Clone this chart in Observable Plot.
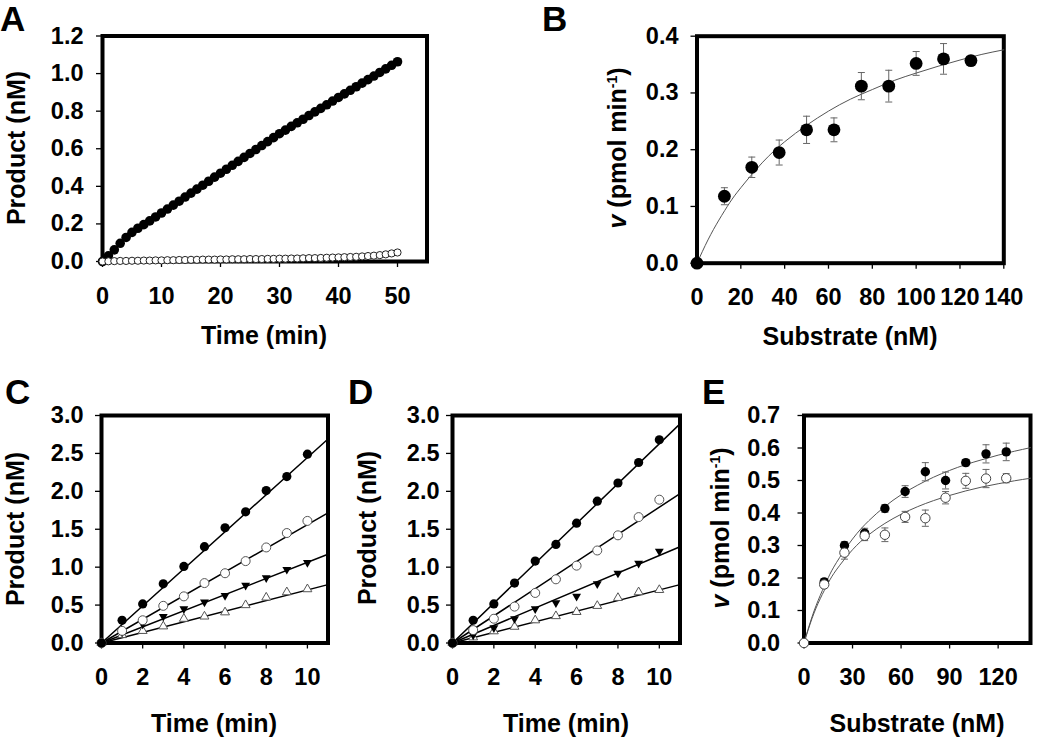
<!DOCTYPE html>
<html><head><meta charset="utf-8">
<script src="https://cdn.jsdelivr.net/npm/d3@7"></script>
<script src="https://cdn.jsdelivr.net/npm/@observablehq/plot@0.6"></script>
<style>
html,body{margin:0;padding:0;background:#fff}
#fig{position:relative;width:1050px;height:740px;background:#fff;overflow:hidden}
#fig > svg{position:absolute;max-width:none}
</style></head><body><div id="fig"></div>
<script>
// ---------- Panel A: product vs time ----------
const timeA = [0,1,2,3,4,5,6,7,8,9,10,11,12,13,14,15,16,17,18,19,20,21,22,23,24,25,26,27,28,29,30,31,32,33,34,35,36,37,38,39,40,41,42,43,44,45,46,47,48,49,50];
const productA_enzyme = [0.000,0.030,0.062,0.097,0.128,0.155,0.177,0.196,0.216,0.237,0.258,0.279,0.300,0.321,0.343,0.364,0.385,0.406,0.427,0.449,0.470,0.491,0.512,0.533,0.554,0.575,0.596,0.617,0.638,0.659,0.680,0.699,0.719,0.738,0.757,0.777,0.796,0.815,0.834,0.854,0.873,0.892,0.911,0.930,0.949,0.968,0.987,1.006,1.025,1.044,1.063];
const productA_control = [0.000,0.001,0.002,0.003,0.003,0.004,0.004,0.005,0.005,0.006,0.006,0.007,0.007,0.008,0.008,0.009,0.009,0.010,0.010,0.010,0.011,0.011,0.012,0.012,0.012,0.013,0.013,0.013,0.014,0.014,0.015,0.015,0.016,0.016,0.017,0.018,0.018,0.019,0.020,0.021,0.022,0.023,0.024,0.025,0.027,0.029,0.031,0.034,0.038,0.043,0.048];
const ticksAx = [0,10,20,30,40,50];
const ticksAy = [0,0.2,0.4,0.6,0.8,1.0,1.2];

// ---------- Panel B: Michaelis-Menten ----------
const substrateB = [0,12.5,25,37.5,50,62.5,75,87.5,100,112.5,125];
const rateB = [0,0.118,0.169,0.195,0.235,0.235,0.312,0.312,0.352,0.360,0.357];
const errB = [0,0.015,0.018,0.022,0.024,0.021,0.024,0.028,0.021,0.027,0.004];
const fitSubstrateB = [0,5,10,15,20,30,40,50,60,70,80,90,100,110,120,130,140];
const fitRateB = [0,0.041,0.076,0.107,0.133,0.178,0.214,0.243,0.268,0.289,0.306,0.322,0.335,0.347,0.358,0.368,0.376];
const ticksBx = [0,20,40,60,80,100,120,140];
const ticksBy = [0,0.1,0.2,0.3,0.4];

// ---------- Panels C and D: progress curves ----------
const timeCD = [0,1,2,3,4,5,6,7,8,9,10];
const C_filledCircle = [0,0.30,0.515,0.78,1.01,1.27,1.52,1.73,2.01,2.195,2.49];
const C_openCircle   = [0,0.16,0.30,0.49,0.615,0.79,0.92,1.08,1.26,1.45,1.61];
const C_filledTri    = [0,0.14,0.25,0.35,0.45,0.54,0.625,0.76,0.86,0.97,1.06];
const C_openTri      = [0,0.105,0.16,0.22,0.32,0.35,0.405,0.50,0.60,0.67,0.71];
const C_fitEnd = [2.69,1.716,1.17,0.77];
const D_filledCircle = [0,0.30,0.515,0.79,1.08,1.30,1.58,1.87,2.11,2.38,2.68];
const D_openCircle   = [0,0.17,0.32,0.48,0.66,0.84,1.02,1.22,1.42,1.66,1.89];
const D_filledTri    = [0,0.105,0.20,0.32,0.45,0.53,0.615,0.78,0.92,1.05,1.21];
const D_openTri      = [0,0.075,0.155,0.215,0.30,0.355,0.41,0.49,0.595,0.67,0.70];
const D_fitEnd = [2.89,1.97,1.27,0.77];
const fitTimeCD = [0,11];
const ticksCDx = [0,2,4,6,8,10];
const ticksCDy = [0,0.5,1.0,1.5,2.0,2.5,3.0];

// ---------- Panel E: two Michaelis-Menten series ----------
const substrateE = [0,12.5,25,37.5,50,62.5,75,87.5,100,112.5,125];
const E_filled = [0,0.188,0.300,0.338,0.414,0.466,0.527,0.500,0.555,0.582,0.588];
const E_filledErr = [0,0.010,0.012,0.015,0.012,0.018,0.028,0.026,0.010,0.028,0.027];
const E_open = [0,0.180,0.278,0.330,0.333,0.388,0.384,0.447,0.499,0.506,0.507];
const E_openErr = [0,0.010,0.020,0.015,0.021,0.017,0.025,0.019,0.023,0.028,0.014];
const fitSubstrateE = [0,5,10,15,20,30,40,50,60,70,80,90,100,110,120,130,140];
const fitFilledE = [0,0.081,0.146,0.201,0.247,0.320,0.376,0.420,0.456,0.485,0.510,0.531,0.549,0.564,0.578,0.590,0.601];
const fitOpenE = [0,0.076,0.136,0.185,0.225,0.287,0.333,0.368,0.396,0.419,0.438,0.454,0.468,0.480,0.490,0.499,0.507];
const ticksEx = [0,30,60,90,120];
const ticksEy = [0,0.1,0.2,0.3,0.4,0.5,0.6,0.7];

// ---------- helpers ----------
const FONT = "'Liberation Sans', Arial, Helvetica, sans-serif";
const fmt1 = d3.format(".1f");
const triDown = {draw(ctx, size) {
  const y = -Math.sqrt(size / (Math.sqrt(3) * 3));
  ctx.moveTo(0, -y * 2); ctx.lineTo(-Math.sqrt(3) * y, y); ctx.lineTo(Math.sqrt(3) * y, y); ctx.closePath();
}};
const capSym = {draw(ctx, size) {
  const w = Math.sqrt(size / Math.PI);
  ctx.moveTo(-w, 0); ctx.lineTo(w, 0);
}};
const fig = document.getElementById("fig");

function panel(o) {
  const svg = Plot.plot({
    width: o.width, height: o.height,
    marginLeft: o.ml, marginRight: o.mr, marginTop: o.mt, marginBottom: o.mb,
    style: {fontFamily: FONT, fontSize: "23.5px", fontWeight: "bold", color: "#000", background: "transparent", overflow: "visible"},
    x: {domain: o.xDomain},
    y: {domain: o.yDomain},
    marks: [
      Plot.frame({stroke: "#000", strokeWidth: 4}),
      Plot.axisX({ticks: o.xTicks, tickSize: 6, tickPadding: o.padX, tickFormat: d3.format("d"), label: null, strokeWidth: 1.3}),
      Plot.axisY({ticks: o.yTicks, tickSize: 6, tickPadding: o.padY, tickFormat: fmt1, label: null, strokeWidth: 1.3}),
      ...o.marks
    ]
  });
  svg.style.left = o.left + "px";
  svg.style.top = o.top + "px";
  fig.appendChild(svg);
}

function errMarks(data, x, y, e, color) {
  const d = data.filter(r => r[e] > 0);
  return [
    Plot.ruleX(d, {x, y1: r => r[y] - r[e], y2: r => r[y] + r[e], stroke: color, strokeWidth: 1}),
    Plot.dot(d, {x, y: r => r[y] - r[e], symbol: capSym, r: 3.5, stroke: color, strokeWidth: 1, fill: "none"}),
    Plot.dot(d, {x, y: r => r[y] + r[e], symbol: capSym, r: 3.5, stroke: color, strokeWidth: 1, fill: "none"})
  ];
}

// ---------- Panel A ----------
const dataA = timeA.map((t, i) => ({t, enz: productA_enzyme[i], ctl: productA_control[i]}));
panel({
  left: 0, top: 0, width: 450, height: 380, ml: 102, mr: 23.5, mt: 35.5, mb: 119,
  xDomain: [0, 55], yDomain: [0, 1.2], xTicks: ticksAx, yTicks: ticksAy, padX: 20, padY: 13,
  marks: [
    Plot.dot(dataA, {x: "t", y: "enz", r: 4.8, fill: "#000", stroke: "none"}),
    Plot.dot(dataA, {x: "t", y: "ctl", r: 3.6, fill: "#fff", stroke: "#222", strokeWidth: 1})
  ]
});

// ---------- Panel B ----------
const dataB = substrateB.map((s, i) => ({s, v: rateB[i], e: errB[i]}));
const fitB = fitSubstrateB.map((s, i) => ({s, v: fitRateB[i]}));
panel({
  left: 500, top: 0, width: 550, height: 380, ml: 196.5, mr: 46.7, mt: 35.7, mb: 117.3,
  xDomain: [0, 140], yDomain: [0, 0.4], xTicks: ticksBx, yTicks: ticksBy, padX: 19, padY: 12.5,
  marks: [
    Plot.line(fitB, {x: "s", y: "v", curve: "natural", stroke: "#555", strokeWidth: 1}),
    ...errMarks(dataB, "s", "v", "e", "#666"),
    Plot.dot(dataB, {x: "s", y: "v", r: 6.4, fill: "#000", stroke: "none"})
  ]
});

// ---------- Panels C & D ----------
function progressMarks(s1, s2, s3, s4, ends) {
  const rows = timeCD.map((t, i) => ({t, a: s1[i], b: s2[i], c: s3[i], d: s4[i]}));
  const fits = [];
  ends.forEach((end, k) => {
    fits.push({k, t: fitTimeCD[0], y: 0});
    fits.push({k, t: fitTimeCD[1], y: end});
  });
  return [
    Plot.line(fits, {x: "t", y: "y", z: "k", stroke: "#000", strokeWidth: 1.5}),
    Plot.dot(rows, {x: "t", y: "d", symbol: "triangle", r: 3.3, fill: "#fff", stroke: "#555", strokeWidth: 1}),
    Plot.dot(rows, {x: "t", y: "c", symbol: triDown, r: 3.3, fill: "#000", stroke: "none"}),
    Plot.dot(rows, {x: "t", y: "b", r: 4.5, fill: "#fff", stroke: "#555", strokeWidth: 1}),
    Plot.dot(rows, {x: "t", y: "a", r: 4.6, fill: "#000", stroke: "none"})
  ];
}
panel({
  left: 0, top: 380, width: 345, height: 360, ml: 101, mr: 17.5, mt: 35, mb: 97.5,
  xDomain: [0, 11], yDomain: [0, 3], xTicks: ticksCDx, yTicks: ticksCDy, padX: 19.5, padY: 12,
  marks: progressMarks(C_filledCircle, C_openCircle, C_filledTri, C_openTri, C_fitEnd)
});
panel({
  left: 345, top: 380, width: 345, height: 360, ml: 107, mr: 10.5, mt: 35, mb: 97.5,
  xDomain: [0, 11], yDomain: [0, 3], xTicks: ticksCDx, yTicks: ticksCDy, padX: 19.5, padY: 7,
  marks: progressMarks(D_filledCircle, D_openCircle, D_filledTri, D_openTri, D_fitEnd)
});

// ---------- Panel E ----------
const dataE = substrateE.map((s, i) => ({s, f: E_filled[i], fe: E_filledErr[i], o: E_open[i], oe: E_openErr[i]}));
const fitE = fitSubstrateE.map((s, i) => ({s, f: fitFilledE[i], o: fitOpenE[i]}));
panel({
  left: 690, top: 380, width: 360, height: 360, ml: 113.5, mr: 20, mt: 35, mb: 97.5,
  xDomain: [0, 140], yDomain: [0, 0.7], xTicks: ticksEx, yTicks: ticksEy, padX: 19.5, padY: 18,
  marks: [
    Plot.line(fitE, {x: "s", y: "f", curve: "natural", stroke: "#555", strokeWidth: 1}),
    Plot.line(fitE, {x: "s", y: "o", curve: "natural", stroke: "#555", strokeWidth: 1}),
    ...errMarks(dataE, "s", "f", "fe", "#666"),
    ...errMarks(dataE, "s", "o", "oe", "#666"),
    Plot.dot(dataE, {x: "s", y: "f", r: 4.7, fill: "#000", stroke: "none"}),
    Plot.dot(dataE, {x: "s", y: "o", r: 4.7, fill: "#fff", stroke: "#444", strokeWidth: 1})
  ]
});

// ---------- Panel letters and axis titles ----------
const NS = "http://www.w3.org/2000/svg";
const ov = document.createElementNS(NS, "svg");
ov.setAttribute("width", 1050); ov.setAttribute("height", 740);
ov.style.left = "0px"; ov.style.top = "0px"; ov.style.pointerEvents = "none";
ov.setAttribute("font-family", FONT); ov.setAttribute("font-weight", "bold");
fig.appendChild(ov);
function txt(x, y, html, size, rot) {
  const t = document.createElementNS(NS, "text");
  t.setAttribute("x", x); t.setAttribute("y", y);
  t.setAttribute("font-size", size);
  if (rot) { t.setAttribute("text-anchor", "middle"); t.setAttribute("transform", `rotate(-90 ${x} ${y})`); }
  else if (html.anchor) t.setAttribute("text-anchor", html.anchor);
  t.innerHTML = html.s || html;
  ov.appendChild(t);
}
const vLabel = '<tspan font-style="italic">v</tspan> (pmol min<tspan dy="-9" font-size="14">-1</tspan><tspan dy="9">)</tspan>';
// letters
txt(0, 31, "A", 35); txt(542, 31, "B", 35);
txt(5, 404, "C", 35); txt(348, 404, "D", 35); txt(702, 404, "E", 35);
// x titles
txt(264, 344, {s: "Time (min)", anchor: "middle"}, 25);
txt(850, 344.5, {s: "Substrate (nM)", anchor: "middle"}, 25);
txt(214, 732, {s: "Time (min)", anchor: "middle"}, 25);
txt(566, 732, {s: "Time (min)", anchor: "middle"}, 25);
txt(917, 732, {s: "Substrate (nM)", anchor: "middle"}, 25);
// y titles (rotated)
txt(25, 148, "Product (nM)", 25, true);
txt(626, 148, vLabel, 25, true);
txt(24, 529, "Product (nM)", 25, true);
txt(376, 528, "Product (nM)", 25, true);
txt(729, 528, vLabel, 25, true);
</script></body></html>
